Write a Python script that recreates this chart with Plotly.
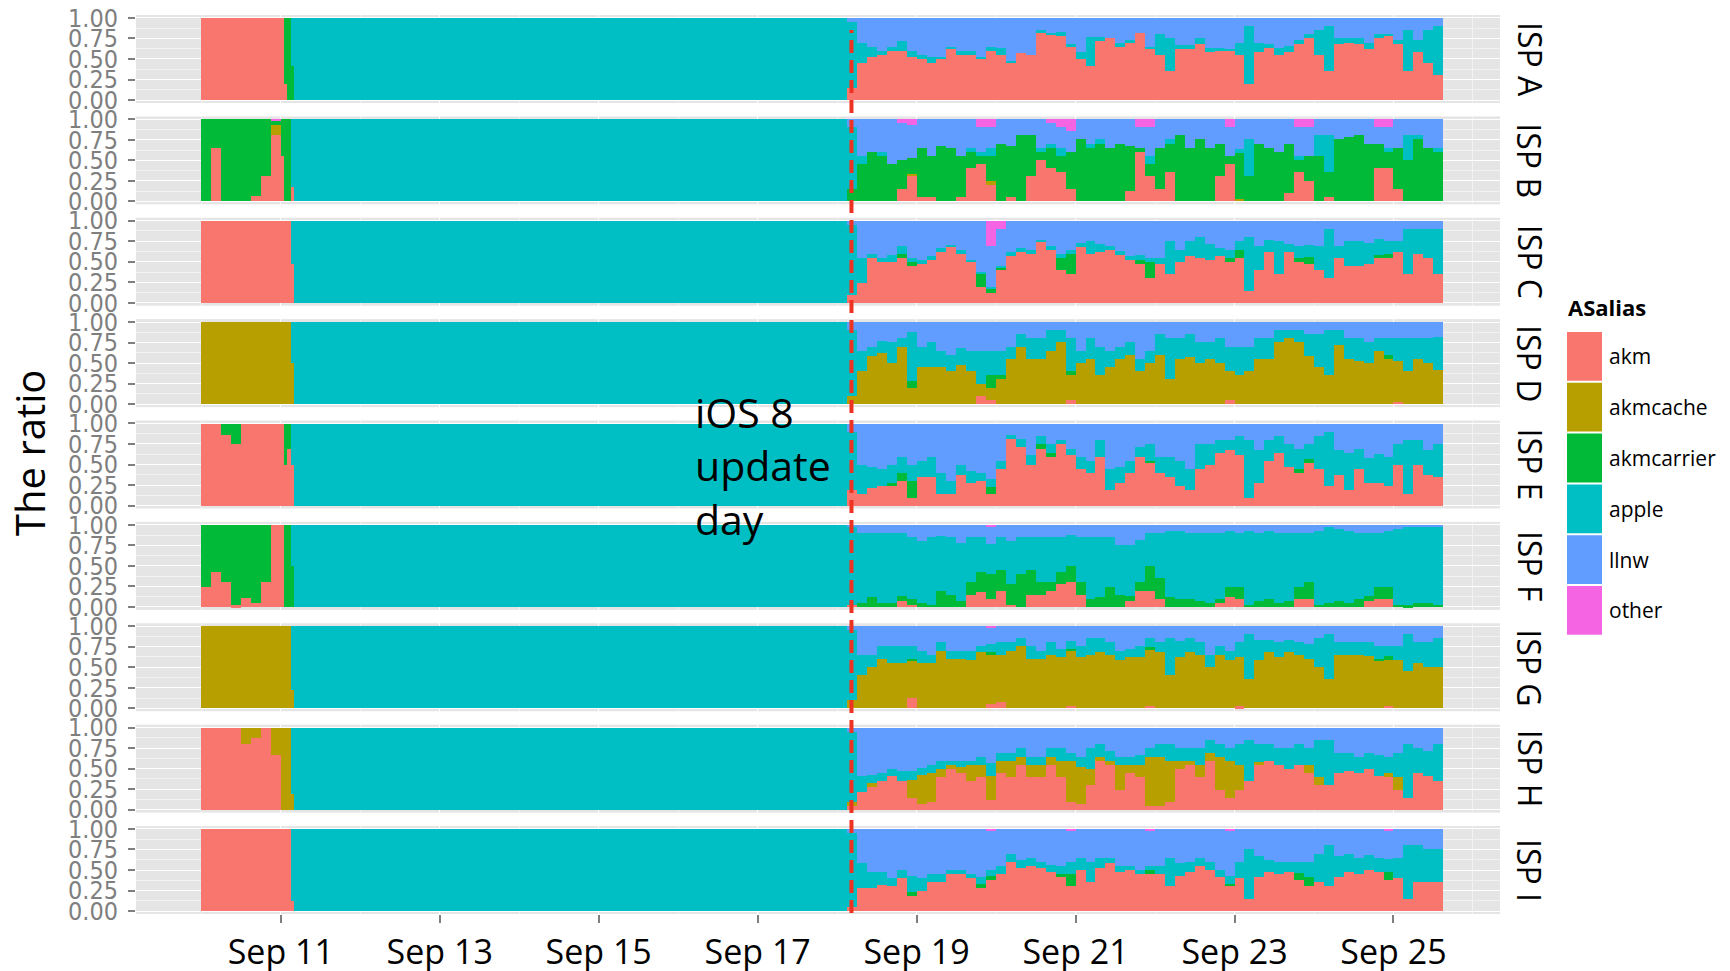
import pandas as pd
import plotly.graph_objects as go
from plotly.subplots import make_subplots

# Time bins: 8 x 3h on Sep 10, 4 x 1h on Sep 11 00-04h,
# one block Sep 11 04h -> Sep 18 03h, then 60 x 3h up to Sep 25 15h.
bin_starts = (list(pd.date_range("2014-09-10 00:00", periods=8, freq="3h"))
              + list(pd.date_range("2014-09-11 00:00", periods=4, freq="1h"))
              + [pd.Timestamp("2014-09-11 04:00")]
              + list(pd.date_range("2014-09-18 03:00", periods=60, freq="3h")))
bin_hours = [3] * 8 + [1] * 4 + [167] + [3] * 60

# shares in percent; each list = 8 pre bins, 4 hourly bins, 1 block, 60 post bins
A_akm = [100, 100, 100, 100, 100, 100, 100, 100, 100, 20, 0, 0, 0,
         15, 45, 52, 55, 60, 60, 52, 50, 45, 50,
         62, 55, 55, 50, 60, 55, 45, 57, 55, 82,
         80, 78, 65, 50, 42, 72, 75, 65, 70, 82,
         62, 55, 35, 62, 62, 68, 58, 60, 60, 55,
         20, 58, 63, 55, 58, 68, 75, 55, 35, 68,
         70, 68, 62, 75, 78, 68, 35, 58, 45, 30]
A_carrier = [0, 0, 0, 0, 0, 0, 0, 0, 0, 80, 100, 42, 0,
             0, 0, 0, 0, 0, 0, 0, 0, 0, 0,
             0, 0, 0, 0, 0, 0, 0, 0, 0, 0,
             0, 0, 0, 0, 0, 0, 0, 0, 0, 0,
             0, 0, 0, 0, 0, 0, 0, 0, 0, 0,
             0, 0, 0, 0, 0, 0, 0, 0, 0, 0,
             0, 0, 0, 0, 0, 0, 0, 0, 0, 0]
A_apple = [0, 0, 0, 0, 0, 0, 0, 0, 0, 0, 0, 58, 100,
           80, 25, 12, 5, 5, 12, 8, 5, 8, 3,
           3, 5, 5, 2, 5, 8, 3, 0, 0, 3,
           2, 5, 3, 8, 35, 5, 0, 5, 3, 0,
           3, 25, 40, 5, 5, 8, 5, 3, 2, 15,
           70, 12, 5, 8, 8, 5, 5, 30, 55, 8,
           5, 8, 8, 5, 2, 5, 50, 15, 40, 60]
A_llnw = [0, 0, 0, 0, 0, 0, 0, 0, 0, 0, 0, 0, 0,
          5, 30, 36, 40, 35, 28, 40, 45, 47, 47,
          35, 40, 40, 48, 35, 37, 52, 43, 45, 15,
          18, 17, 32, 42, 23, 23, 25, 30, 27, 18,
          35, 20, 25, 33, 33, 24, 37, 37, 38, 30,
          10, 30, 32, 37, 34, 27, 20, 15, 10, 24,
          25, 24, 30, 20, 20, 27, 15, 27, 15, 10]

B_akm = [0, 65, 0, 0, 0, 6, 30, 80, 55, 0, 0, 17, 0,
         0, 0, 0, 0, 0, 15, 30, 5, 5, 0,
         0, 5, 40, 45, 20, 0, 5, 0, 30, 50,
         40, 35, 15, 0, 0, 0, 0, 0, 12, 60,
         30, 15, 35, 0, 0, 0, 0, 30, 45, 0,
         0, 0, 0, 0, 10, 35, 25, 0, 5, 0,
         0, 0, 0, 40, 40, 15, 0, 0, 0, 0]
B_cache = [0, 0, 0, 0, 0, 0, 0, 12, 0, 0, 0, 0, 0,
           0, 0, 0, 0, 0, 0, 3, 0, 0, 0,
           0, 0, 0, 0, 5, 0, 0, 0, 0, 0,
           0, 0, 0, 0, 0, 0, 0, 0, 0, 0,
           0, 0, 0, 0, 0, 0, 0, 0, 0, 3,
           0, 0, 0, 0, 0, 0, 0, 0, 0, 0,
           0, 0, 0, 0, 0, 0, 0, 0, 0, 0]
B_carrier = [100, 35, 100, 100, 100, 94, 70, 5, 45, 100, 100, 0, 0,
             15, 45, 60, 55, 45, 35, 20, 60, 50, 67,
             65, 50, 20, 10, 30, 70, 62, 80, 50, 10,
             25, 20, 45, 75, 65, 70, 65, 70, 55, 5,
             15, 50, 35, 80, 65, 75, 65, 40, 10, 55,
             30, 70, 65, 60, 60, 15, 30, 55, 30, 75,
             78, 80, 70, 30, 20, 50, 50, 75, 65, 60]
B_apple = [0, 0, 0, 0, 0, 0, 0, 0, 0, 0, 0, 83, 100,
           75, 10, 0, 5, 0, 0, 0, 0, 0, 0,
           0, 0, 5, 5, 10, 0, 0, 0, 0, 5,
           5, 10, 0, 0, 5, 5, 0, 0, 0, 0,
           10, 0, 5, 0, 0, 0, 0, 0, 0, 5,
           45, 0, 0, 0, 0, 5, 0, 25, 45, 0,
           0, 0, 0, 0, 5, 0, 30, 5, 0, 5]
B_llnw = [0, 0, 0, 0, 0, 0, 0, 0, 0, 0, 0, 0, 0,
          10, 45, 40, 40, 55, 45, 40, 35, 45, 33,
          35, 45, 35, 30, 25, 30, 33, 20, 20, 35,
          25, 25, 25, 25, 30, 25, 35, 30, 33, 25,
          35, 35, 25, 20, 35, 25, 35, 30, 35, 37,
          25, 30, 35, 40, 30, 35, 35, 20, 20, 25,
          22, 20, 30, 20, 25, 35, 20, 20, 35, 35]
B_other = [0, 0, 0, 0, 0, 0, 0, 3, 0, 0, 0, 0, 0,
           0, 0, 0, 0, 0, 5, 7, 0, 0, 0,
           0, 0, 0, 10, 10, 0, 0, 0, 0, 0,
           5, 10, 15, 0, 0, 0, 0, 0, 0, 10,
           10, 0, 0, 0, 0, 0, 0, 0, 10, 0,
           0, 0, 0, 0, 0, 10, 10, 0, 0, 0,
           0, 0, 0, 10, 10, 0, 0, 0, 0, 0]

C_akm = [100, 100, 100, 100, 100, 100, 100, 100, 100, 100, 100, 48, 0,
         10, 25, 55, 50, 50, 55, 45, 47, 52, 62,
         68, 60, 50, 20, 12, 40, 57, 62, 60, 75,
         65, 40, 35, 68, 60, 62, 64, 58, 52, 48,
         30, 48, 35, 50, 57, 55, 52, 57, 50, 55,
         15, 40, 62, 35, 62, 50, 48, 40, 30, 55,
         45, 45, 48, 55, 55, 62, 35, 60, 55, 35]
C_carrier = [0, 0, 0, 0, 0, 0, 0, 0, 0, 0, 0, 0, 0,
             0, 0, 0, 0, 0, 5, 5, 0, 0, 0,
             0, 0, 0, 15, 5, 3, 0, 0, 0, 0,
             0, 15, 25, 0, 0, 0, 0, 0, 0, 5,
             20, 0, 0, 0, 0, 0, 0, 0, 5, 10,
             0, 0, 0, 0, 0, 5, 8, 0, 0, 0,
             0, 0, 0, 3, 5, 0, 0, 0, 0, 0]
C_apple = [0, 0, 0, 0, 0, 0, 0, 0, 0, 0, 0, 52, 100,
           85, 30, 5, 5, 8, 10, 5, 5, 5, 5,
           3, 5, 3, 3, 3, 2, 5, 5, 5, 2,
           5, 5, 5, 5, 15, 10, 6, 5, 5, 5,
           5, 7, 40, 15, 18, 25, 20, 10, 10, 10,
           65, 30, 15, 40, 10, 15, 15, 30, 60, 15,
           30, 30, 25, 20, 15, 13, 55, 30, 35, 55]
C_llnw = [0, 0, 0, 0, 0, 0, 0, 0, 0, 0, 0, 0, 0,
          5, 45, 40, 45, 42, 30, 45, 48, 43, 33,
          29, 35, 47, 62, 50, 45, 38, 33, 35, 23,
          30, 40, 35, 27, 25, 28, 30, 37, 43, 42,
          45, 45, 25, 35, 25, 20, 28, 33, 35, 25,
          20, 30, 23, 25, 28, 30, 29, 30, 10, 30,
          25, 25, 27, 22, 25, 25, 10, 10, 10, 10]
C_other = [0, 0, 0, 0, 0, 0, 0, 0, 0, 0, 0, 0, 0,
           0, 0, 0, 0, 0, 0, 0, 0, 0, 0,
           0, 0, 0, 0, 30, 10, 0, 0, 0, 0,
           0, 0, 0, 0, 0, 0, 0, 0, 0, 0,
           0, 0, 0, 0, 0, 0, 0, 0, 0, 0,
           0, 0, 0, 0, 0, 0, 0, 0, 0, 0,
           0, 0, 0, 0, 0, 0, 0, 0, 0, 0]

D_akm = [0, 0, 0, 0, 0, 0, 0, 0, 0, 0, 0, 0, 0,
         0, 0, 0, 0, 0, 0, 0, 0, 0, 0,
         0, 0, 0, 10, 5, 0, 0, 0, 0, 0,
         0, 0, 5, 0, 0, 0, 0, 0, 0, 0,
         0, 0, 0, 0, 0, 0, 0, 0, 5, 0,
         0, 0, 0, 0, 0, 0, 0, 0, 0, 0,
         0, 0, 0, 0, 0, 3, 0, 0, 0, 0]
D_cache = [100, 100, 100, 100, 100, 100, 100, 100, 100, 100, 100, 50, 0,
           10, 40, 58, 62, 50, 70, 20, 45, 45, 45,
           40, 48, 40, 15, 15, 30, 55, 70, 55, 55,
           65, 75, 30, 50, 55, 35, 45, 55, 60, 40,
           50, 60, 30, 55, 57, 50, 55, 50, 35, 35,
           40, 55, 55, 75, 80, 75, 58, 45, 35, 72,
           55, 52, 50, 65, 55, 50, 40, 55, 50, 42]
D_carrier = [0, 0, 0, 0, 0, 0, 0, 0, 0, 0, 0, 0, 0,
             0, 0, 0, 0, 0, 0, 8, 0, 0, 0,
             0, 0, 0, 0, 15, 5, 0, 0, 0, 0,
             0, 0, 5, 0, 0, 0, 0, 0, 0, 0,
             0, 0, 0, 0, 0, 0, 0, 0, 0, 0,
             0, 0, 0, 0, 0, 0, 0, 0, 0, 0,
             0, 0, 0, 0, 5, 0, 0, 0, 0, 0]
D_apple = [0, 0, 0, 0, 0, 0, 0, 0, 0, 0, 0, 50, 100,
           80, 25, 12, 15, 25, 10, 60, 25, 30, 20,
           20, 20, 25, 40, 30, 30, 15, 15, 25, 25,
           25, 15, 40, 15, 25, 35, 20, 15, 15, 15,
           15, 25, 50, 25, 28, 25, 20, 30, 30, 35,
           30, 25, 25, 15, 10, 15, 27, 40, 55, 18,
           25, 28, 25, 15, 20, 27, 40, 25, 30, 40]
D_llnw = [0, 0, 0, 0, 0, 0, 0, 0, 0, 0, 0, 0, 0,
          10, 35, 30, 23, 25, 20, 12, 30, 25, 35,
          40, 32, 35, 35, 35, 35, 30, 15, 20, 20,
          10, 10, 20, 35, 20, 30, 35, 30, 25, 45,
          35, 15, 20, 20, 15, 25, 25, 20, 30, 30,
          30, 20, 20, 10, 10, 10, 15, 15, 10, 10,
          20, 20, 25, 20, 20, 20, 20, 20, 20, 18]

E_akm = [100, 100, 86, 75, 100, 100, 100, 100, 100, 50, 70, 50, 0,
         20, 15, 22, 25, 25, 30, 10, 35, 35, 15,
         15, 38, 28, 30, 15, 45, 82, 72, 50, 70,
         60, 75, 62, 45, 40, 60, 20, 28, 40, 60,
         52, 40, 35, 25, 20, 45, 50, 65, 68, 62,
         10, 28, 55, 65, 48, 40, 52, 45, 25, 38,
         20, 45, 28, 28, 25, 50, 15, 50, 38, 35]
E_carrier = [0, 0, 14, 25, 0, 0, 0, 0, 0, 50, 30, 0, 0,
             0, 0, 0, 0, 3, 10, 20, 0, 0, 0,
             0, 0, 0, 0, 8, 0, 0, 0, 0, 5,
             5, 0, 0, 0, 0, 0, 0, 0, 0, 0,
             3, 0, 0, 0, 0, 0, 0, 0, 0, 0,
             0, 0, 0, 0, 0, 5, 5, 0, 0, 0,
             0, 0, 0, 0, 0, 0, 0, 0, 0, 0]
E_apple = [0, 0, 0, 0, 0, 0, 0, 0, 0, 0, 0, 50, 100,
           70, 35, 25, 20, 22, 20, 20, 20, 25, 25,
           15, 12, 15, 10, 10, 10, 5, 10, 12, 10,
           10, 5, 8, 15, 15, 20, 25, 20, 15, 12,
           20, 20, 25, 30, 25, 30, 25, 15, 12, 23,
           70, 40, 25, 20, 27, 25, 18, 40, 65, 30,
           45, 25, 30, 35, 35, 25, 65, 30, 30, 40]
E_llnw = [0, 0, 0, 0, 0, 0, 0, 0, 0, 0, 0, 0, 0,
          10, 50, 53, 55, 50, 40, 50, 45, 40, 60,
          70, 50, 57, 60, 67, 45, 13, 18, 38, 15,
          25, 20, 30, 40, 45, 20, 55, 52, 45, 28,
          25, 40, 40, 45, 55, 25, 25, 20, 20, 15,
          20, 32, 20, 15, 25, 30, 25, 15, 10, 32,
          35, 30, 42, 37, 40, 25, 20, 20, 32, 25]

F_akm = [24, 43, 31, 2, 11, 5, 30, 100, 100, 0, 0, 0, 0,
         3, 0, 0, 0, 0, 8, 3, 0, 0, 0,
         0, 0, 15, 18, 10, 20, 3, 0, 15, 15,
         20, 28, 30, 15, 0, 0, 0, 0, 8, 20,
         20, 10, 0, 0, 0, 0, 0, 5, 12, 10,
         0, 0, 0, 0, 0, 10, 10, 0, 0, 0,
         0, 0, 8, 10, 10, 0, 0, 0, 0, 0]
F_carrier = [76, 57, 69, 98, 89, 95, 70, 0, 0, 100, 100, 50, 0,
             0, 5, 12, 5, 5, 5, 7, 5, 3, 20,
             15, 8, 15, 25, 30, 25, 25, 40, 30, 15,
             10, 15, 20, 15, 10, 12, 25, 15, 5, 10,
             30, 25, 12, 10, 10, 8, 5, 5, 12, 15,
             3, 8, 10, 5, 8, 15, 20, 3, 5, 8,
             5, 10, 5, 15, 15, 3, 2, 5, 5, 3]
F_apple = [0, 0, 0, 0, 0, 0, 0, 0, 0, 0, 0, 50, 100,
           95, 85, 78, 85, 85, 77, 75, 75, 82, 67,
           70, 70, 55, 42, 37, 40, 52, 45, 40, 55,
           55, 42, 38, 55, 75, 73, 60, 60, 62, 52,
           40, 55, 80, 82, 80, 82, 85, 80, 68, 65,
           90, 82, 82, 85, 82, 65, 60, 90, 93, 87,
           88, 80, 77, 65, 67, 92, 95, 92, 92, 94]
F_llnw = [0, 0, 0, 0, 0, 0, 0, 0, 0, 0, 0, 0, 0,
          2, 10, 10, 10, 10, 10, 15, 20, 15, 13,
          15, 22, 15, 15, 20, 15, 20, 15, 15, 15,
          15, 15, 12, 15, 15, 15, 15, 25, 25, 18,
          10, 10, 8, 8, 10, 10, 10, 10, 8, 10,
          7, 10, 8, 10, 10, 10, 10, 7, 2, 5,
          7, 10, 10, 10, 8, 5, 3, 3, 3, 3]
F_other = [0, 0, 0, 0, 0, 0, 0, 0, 0, 0, 0, 0, 0,
           0, 0, 0, 0, 0, 0, 0, 0, 0, 0,
           0, 0, 0, 0, 3, 0, 0, 0, 0, 0,
           0, 0, 0, 0, 0, 0, 0, 0, 0, 0,
           0, 0, 0, 0, 0, 0, 0, 0, 0, 0,
           0, 0, 0, 0, 0, 0, 0, 0, 0, 0,
           0, 0, 0, 0, 0, 0, 0, 0, 0, 0]

G_akm = [0, 0, 0, 0, 0, 0, 0, 0, 0, 0, 0, 0, 0,
         0, 0, 0, 0, 0, 0, 12, 0, 0, 0,
         0, 0, 0, 0, 5, 8, 0, 0, 0, 0,
         0, 0, 3, 0, 0, 0, 0, 0, 0, 0,
         3, 0, 0, 0, 0, 0, 0, 0, 0, 2,
         0, 0, 0, 0, 0, 0, 0, 0, 0, 0,
         0, 0, 0, 0, 3, 0, 0, 0, 0, 0]
G_cache = [100, 100, 100, 100, 100, 100, 100, 100, 100, 100, 100, 22, 0,
           10, 40, 50, 60, 55, 55, 45, 55, 55, 70,
           60, 60, 58, 68, 60, 57, 70, 75, 60, 60,
           65, 62, 67, 62, 65, 68, 65, 58, 62, 62,
           68, 68, 40, 62, 68, 65, 50, 65, 58, 60,
           35, 58, 68, 62, 68, 65, 60, 50, 35, 65,
           65, 65, 63, 58, 55, 58, 45, 55, 50, 50]
G_carrier = [0, 0, 0, 0, 0, 0, 0, 0, 0, 0, 0, 0, 0,
             0, 0, 0, 0, 0, 0, 3, 0, 0, 0,
             0, 0, 0, 0, 3, 0, 0, 0, 0, 0,
             0, 0, 2, 0, 0, 0, 0, 0, 0, 0,
             3, 0, 0, 0, 0, 0, 0, 0, 0, 0,
             0, 0, 0, 0, 0, 0, 0, 0, 0, 0,
             0, 0, 0, 2, 5, 0, 0, 0, 0, 0]
G_apple = [0, 0, 0, 0, 0, 0, 0, 0, 0, 0, 0, 78, 100,
           85, 25, 15, 15, 20, 20, 15, 15, 10, 10,
           10, 10, 12, 7, 10, 15, 10, 10, 15, 10,
           15, 10, 10, 13, 20, 17, 15, 12, 10, 13,
           11, 12, 45, 20, 17, 15, 15, 10, 12, 18,
           55, 25, 15, 18, 15, 15, 18, 35, 55, 15,
           15, 15, 17, 15, 12, 17, 45, 25, 30, 35]
G_llnw = [0, 0, 0, 0, 0, 0, 0, 0, 0, 0, 0, 0, 0,
          5, 35, 35, 25, 25, 25, 25, 30, 35, 20,
          30, 30, 30, 25, 20, 20, 20, 15, 25, 30,
          20, 28, 18, 25, 15, 15, 20, 30, 28, 25,
          15, 20, 15, 18, 15, 20, 35, 25, 30, 20,
          10, 17, 17, 20, 17, 20, 22, 15, 10, 20,
          20, 20, 20, 25, 25, 25, 10, 20, 20, 15]
G_other = [0, 0, 0, 0, 0, 0, 0, 0, 0, 0, 0, 0, 0,
           0, 0, 0, 0, 0, 0, 0, 0, 0, 0,
           0, 0, 0, 0, 2, 0, 0, 0, 0, 0,
           0, 0, 0, 0, 0, 0, 0, 0, 0, 0,
           0, 0, 0, 0, 0, 0, 0, 0, 0, 0,
           0, 0, 0, 0, 0, 0, 0, 0, 0, 0,
           0, 0, 0, 0, 0, 0, 0, 0, 0, 0]

H_akm = [100, 100, 100, 100, 80, 88, 100, 67, 0, 0, 0, 0, 0,
         5, 22, 28, 35, 42, 35, 15, 8, 10, 40,
         50, 45, 35, 40, 12, 45, 40, 55, 40, 40,
         55, 40, 10, 8, 30, 60, 55, 25, 45, 40,
         5, 5, 10, 50, 55, 40, 60, 25, 15, 25,
         35, 55, 60, 55, 50, 55, 45, 30, 30, 45,
         48, 45, 50, 42, 40, 25, 15, 45, 42, 35]
H_cache = [0, 0, 0, 0, 20, 12, 0, 33, 100, 100, 100, 20, 0,
           5, 0, 5, 0, 0, 0, 22, 35, 35, 10,
           5, 8, 20, 15, 30, 15, 20, 10, 15, 15,
           10, 20, 50, 45, 20, 5, 5, 30, 10, 15,
           60, 60, 50, 10, 5, 15, 10, 40, 45, 30,
           0, 3, 0, 0, 0, 0, 10, 10, 0, 0,
           0, 0, 0, 0, 5, 15, 0, 0, 0, 0]
H_apple = [0, 0, 0, 0, 0, 0, 0, 0, 0, 0, 0, 80, 100,
           85, 20, 10, 10, 8, 12, 10, 8, 10, 10,
           5, 7, 5, 10, 15, 10, 10, 10, 10, 10,
           10, 15, 10, 12, 25, 15, 12, 10, 10, 12,
           10, 15, 20, 15, 15, 20, 15, 15, 15, 25,
           50, 22, 20, 20, 25, 25, 20, 45, 55, 25,
           22, 20, 20, 25, 20, 30, 65, 30, 30, 45]
H_llnw = [0, 0, 0, 0, 0, 0, 0, 0, 0, 0, 0, 0, 0,
          5, 58, 57, 55, 50, 53, 53, 49, 45, 40,
          40, 40, 40, 35, 43, 30, 30, 25, 35, 35,
          25, 25, 30, 35, 25, 20, 28, 35, 35, 33,
          25, 20, 20, 25, 25, 25, 15, 20, 25, 20,
          15, 20, 20, 25, 25, 20, 25, 15, 15, 30,
          30, 35, 30, 33, 35, 30, 20, 25, 28, 20]

I_akm = [100, 100, 100, 100, 100, 100, 100, 100, 100, 100, 100, 12, 0,
         5, 28, 28, 32, 30, 40, 18, 25, 35, 35,
         45, 45, 40, 28, 38, 45, 60, 52, 55, 52,
         48, 42, 30, 50, 35, 52, 58, 47, 50, 45,
         45, 45, 30, 43, 48, 55, 50, 42, 30, 40,
         15, 42, 47, 45, 48, 38, 30, 35, 30, 42,
         48, 45, 50, 48, 38, 40, 15, 35, 35, 35]
I_carrier = [0, 0, 0, 0, 0, 0, 0, 0, 0, 0, 0, 0, 0,
             0, 0, 0, 0, 0, 0, 5, 0, 0, 0,
             0, 0, 0, 5, 5, 0, 0, 0, 0, 0,
             0, 3, 15, 0, 0, 0, 0, 0, 0, 0,
             5, 0, 0, 0, 0, 0, 0, 0, 3, 0,
             0, 0, 0, 0, 0, 8, 12, 0, 0, 0,
             0, 0, 0, 0, 10, 0, 0, 0, 0, 0]
I_apple = [0, 0, 0, 0, 0, 0, 0, 0, 0, 0, 0, 88, 100,
           90, 30, 20, 15, 10, 10, 20, 15, 10, 10,
           5, 5, 5, 8, 7, 10, 10, 10, 10, 8,
           8, 10, 15, 15, 25, 13, 7, 8, 5, 5,
           5, 10, 35, 15, 12, 10, 10, 8, 10, 20,
           60, 25, 15, 15, 12, 14, 18, 35, 50, 25,
           22, 20, 18, 17, 15, 25, 65, 45, 40, 40]
I_llnw = [0, 0, 0, 0, 0, 0, 0, 0, 0, 0, 0, 0, 0,
          5, 42, 52, 53, 60, 50, 57, 60, 55, 55,
          50, 50, 55, 59, 48, 45, 30, 38, 35, 40,
          44, 45, 37, 35, 40, 35, 35, 45, 45, 50,
          43, 45, 35, 42, 40, 35, 40, 50, 55, 40,
          25, 33, 38, 40, 40, 40, 40, 30, 20, 33,
          30, 35, 32, 35, 35, 35, 20, 20, 25, 25]
I_other = [0, 0, 0, 0, 0, 0, 0, 0, 0, 0, 0, 0, 0,
           0, 0, 0, 0, 0, 0, 0, 0, 0, 0,
           0, 0, 0, 0, 2, 0, 0, 0, 0, 0,
           0, 0, 3, 0, 0, 0, 0, 0, 0, 0,
           2, 0, 0, 0, 0, 0, 0, 0, 2, 0,
           0, 0, 0, 0, 0, 0, 0, 0, 0, 0,
           0, 0, 0, 0, 2, 0, 0, 0, 0, 0]

isp_data = {
    "ISP A": {"akm": A_akm, "akmcarrier": A_carrier, "apple": A_apple, "llnw": A_llnw},
    "ISP B": {"akm": B_akm, "akmcache": B_cache, "akmcarrier": B_carrier,
              "apple": B_apple, "llnw": B_llnw, "other": B_other},
    "ISP C": {"akm": C_akm, "akmcarrier": C_carrier, "apple": C_apple,
              "llnw": C_llnw, "other": C_other},
    "ISP D": {"akm": D_akm, "akmcache": D_cache, "akmcarrier": D_carrier,
              "apple": D_apple, "llnw": D_llnw},
    "ISP E": {"akm": E_akm, "akmcarrier": E_carrier, "apple": E_apple, "llnw": E_llnw},
    "ISP F": {"akm": F_akm, "akmcarrier": F_carrier, "apple": F_apple,
              "llnw": F_llnw, "other": F_other},
    "ISP G": {"akm": G_akm, "akmcache": G_cache, "akmcarrier": G_carrier,
              "apple": G_apple, "llnw": G_llnw, "other": G_other},
    "ISP H": {"akm": H_akm, "akmcache": H_cache, "apple": H_apple, "llnw": H_llnw},
    "ISP I": {"akm": I_akm, "akmcarrier": I_carrier, "apple": I_apple,
              "llnw": I_llnw, "other": I_other},
}

series_order = ["akm", "akmcache", "akmcarrier", "apple", "llnw", "other"]
colors = {"akm": "#F8766D", "akmcache": "#B79F00", "akmcarrier": "#00BA38",
          "apple": "#00BFC4", "llnw": "#619CFF", "other": "#F564E3"}

# sanity check: every bin should add up to 100 %
for isp, data in isp_data.items():
    for name, vals in data.items():
        if len(vals) != len(bin_hours):
            raise ValueError(f"{isp} {name}: {len(vals)} values")
    totals = [sum(v) for v in zip(*data.values())]
    bad = [(i, t) for i, t in enumerate(totals) if t != 100]
    if bad:
        raise ValueError(f"{isp} bad sums: {bad}")

# the page body has an 8px margin, so the figure is drawn 8px smaller
# and all screen positions below are given in window pixels minus 8
OFF = 8
W, H = 1730 - OFF, 971 - OFF
ML, MR, MT, MB = 128, 230, 7, 57
PW, PH = W - ML - MR, H - MT - MB


def px_x(x):
    return (x - OFF - ML) / PW


def px_y(y):
    return 1 - (y - OFF - MT) / PH


centers = [s + pd.Timedelta(hours=h / 2) for s, h in zip(bin_starts, bin_hours)]
widths = [h * 3600 * 1000 for h in bin_hours]

fig = make_subplots(rows=9, cols=1, shared_xaxes=True, vertical_spacing=13.4 / PH)

for row, (isp, data) in enumerate(isp_data.items(), start=1):
    for name in series_order:
        if name not in data:
            continue
        fig.add_trace(go.Bar(
            x=centers, y=[v / 100 for v in data[name]], width=widths,
            name=name, showlegend=False,
            marker=dict(color=colors[name], line=dict(width=0)),
        ), row=row, col=1)

tick_days = pd.date_range("2014-09-11", "2014-09-25", freq="2D")
minor_days = pd.date_range("2014-09-10", "2014-09-26", freq="2D")

fig.update_xaxes(
    type="date", automargin=False,
    range=["2014-09-09 04:17", "2014-09-26 08:10"],
    tickvals=list(tick_days),
    ticktext=[d.strftime("%b %d") for d in tick_days],
    showgrid=True, gridcolor="white", gridwidth=1.4,
    minor=dict(tickvals=list(minor_days), showgrid=True, gridcolor="#F2F2F2", gridwidth=1),
    zeroline=False, showline=False, ticks="",
)
fig.update_xaxes(
    row=9, col=1, ticks="outside", ticklen=8, tickwidth=2, tickcolor="#7F7F7F",
    tickfont=dict(family="Open Sans", size=34, color="black"),
    ticklabelstandoff=0, ticklabeloverflow="allow",
)
fig.update_yaxes(
    automargin=False,
    range=[-0.035, 1.035],
    tickvals=[0, 0.25, 0.5, 0.75, 1],
    ticktext=["0.00", "0.25", "0.50", "0.75", "1.00"],
    ticks="outside", ticklen=7, tickwidth=2, tickcolor="#7F7F7F",
    tickfont=dict(family="Liberation Sans Narrow, DejaVu Sans Condensed, Arial Narrow, sans-serif",
                  size=25, color="#7F7F7F"),
    ticklabelstandoff=5, ticklabeloverflow="allow",
    showgrid=True, gridcolor="white", gridwidth=1.4,
    minor=dict(tickvals=[0.125, 0.375, 0.625, 0.875], showgrid=True,
               gridcolor="#F2F2F2", gridwidth=1),
    zeroline=False, showline=False,
)

annotations = []
# facet labels on the right
for row, isp in enumerate(isp_data, start=1):
    dom = fig.layout["yaxis" if row == 1 else f"yaxis{row}"].domain
    annotations.append(dict(
        text=isp, xref="paper", yref="paper", x=px_x(1530), y=(dom[0] + dom[1]) / 2,
        textangle=90, showarrow=False, xanchor="center", yanchor="middle",
        font=dict(family="Open Sans", size=32, color="black"),
    ))

annotations.append(dict(
    text="The ratio", xref="paper", yref="paper", x=px_x(29), y=px_y(453),
    textangle=-90, showarrow=False, xanchor="center", yanchor="middle",
    font=dict(family="Open Sans", size=40, color="black"),
))
annotations.append(dict(
    text="iOS 8<br>update<br>day", xref="paper", yref="paper", x=px_x(693), y=px_y(465),
    showarrow=False, xanchor="left", yanchor="middle", align="left",
    font=dict(family="Open Sans", size=41, color="black"),
))

# legend drawn by hand (big ggplot keys)
shapes = []
annotations.append(dict(
    text="<b>ASalias</b>", xref="paper", yref="paper", x=px_x(1566), y=px_y(307),
    showarrow=False, xanchor="left", yanchor="middle",
    font=dict(family="Open Sans", size=22, color="black"),
))
key_top, key_h = 331, 50.8
for j, name in enumerate(series_order):
    y0 = key_top + j * key_h
    shapes.append(dict(
        type="rect", xref="paper", yref="paper",
        x0=px_x(1567), x1=px_x(1602), y0=px_y(y0 + 1), y1=px_y(y0 + key_h - 1),
        fillcolor=colors[name], line=dict(width=0),
    ))
    annotations.append(dict(
        text=name, xref="paper", yref="paper", x=px_x(1607), y=px_y(y0 + key_h / 2),
        showarrow=False, xanchor="left", yanchor="middle",
        font=dict(family="Open Sans", size=21, color="black"),
    ))

# iOS 8 update marker
shapes.append(dict(
    type="line", xref="x", yref="paper",
    x0="2014-09-18 04:20", x1="2014-09-18 04:20", y0=px_y(913), y1=px_y(30),
    line=dict(color="#EE3322", width=4, dash="13px,7px"),
))

fig.update_layout(
    width=W, height=H,
    margin=dict(l=ML, r=MR, t=MT, b=MB),
    barmode="stack", bargap=0,
    paper_bgcolor="white", plot_bgcolor="#E5E5E5",
    showlegend=False,
    annotations=annotations, shapes=shapes,
)

fig.write_html("out.html")
